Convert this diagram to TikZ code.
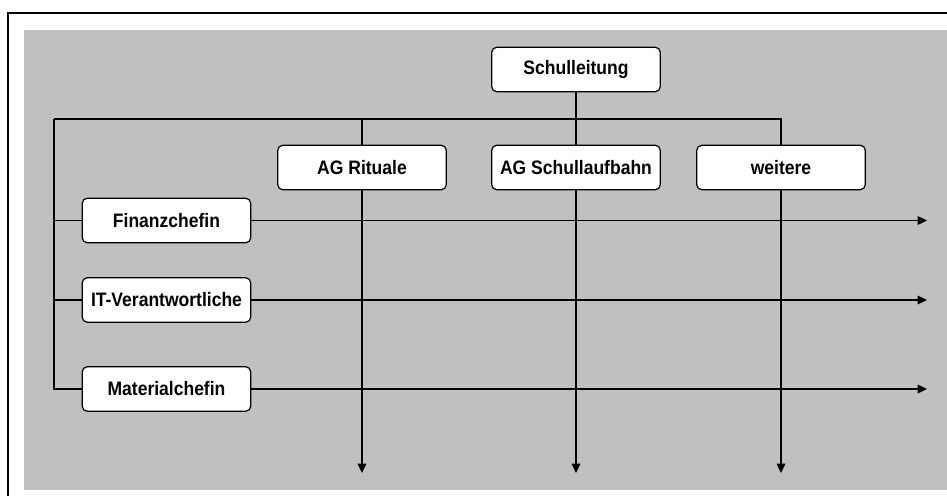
\documentclass[tikz,border=0pt]{standalone}
\usepackage{tikz}
\usepackage{xcolor}
\usepackage{fontspec}
\setmainfont{Liberation Sans}[FakeStretch=0.9]
\usetikzlibrary{shapes,arrows.meta,positioning,calc}

\definecolor{grau}{HTML}{C0C0C0}
\tikzset{
  kasten/.style={rectangle, rounded corners=4pt, draw, fill=white, line width=0.9pt,
    minimum width=126.5pt, minimum height=33.5pt, inner sep=1pt, font=\bfseries\fontsize{14.6}{16}\selectfont},
  linie/.style={line width=0.9pt},
  pfeil/.style={line width=0.9pt, -{Triangle[length=7pt,width=6.5pt]}}
}

\begin{document}
\begin{tikzpicture}[x=0.75pt, y=-0.75pt]
				\useasboundingbox (0,0) rectangle (947,496);
				\fill[grau] (24,30) rectangle (947,490);
				\draw[line width=0.9pt] (8,496) -- (8,13) -- (947,13);
				
				\node[kasten] (leit) at (576,69.5) {Schulleitung};
				\node[kasten] (rit) at (362,167.5) {AG Rituale};
				\node[kasten] (bahn) at (576,167.5) {AG Schullaufbahn};
				\node[kasten] (weit) at (781,167.5) {weitere};
				\node[kasten] (fin) at (166.5,220.5) {Finanzchefin};
				\node[kasten] (it) at (166.5,300) {IT-Verantwortliche};
				\node[kasten] (mat) at (166.5,389) {Materialchefin};
				
				\coordinate (lo) at (54,119);
				\coordinate (rend) at (927,0);
				\coordinate (uend) at (0,473);
				
				\draw[linie] (leit.south) -- (leit.south |- lo);
				\draw[linie] (lo) -- (lo -| weit.north) -- (weit.north);
				\draw[linie] (lo -| rit.north) -- (rit.north);
				\draw[linie] (lo -| bahn.north) -- (bahn.north);
				\draw[linie] (lo) |- (mat.west);
				\draw[linie] (lo |- fin.west) -- (fin.west);
				\draw[linie] (lo |- it.west) -- (it.west);
				
				\draw[pfeil] (fin.east) -- (fin.east -| rend);
				\draw[pfeil] (it.east) -- (it.east -| rend);
				\draw[pfeil] (mat.east) -- (mat.east -| rend);
				\draw[pfeil] (rit.south) -- (rit.south |- uend);
				\draw[pfeil] (bahn.south) -- (bahn.south |- uend);
				\draw[pfeil] (weit.south) -- (weit.south |- uend);
			\end{tikzpicture}
\end{document}
